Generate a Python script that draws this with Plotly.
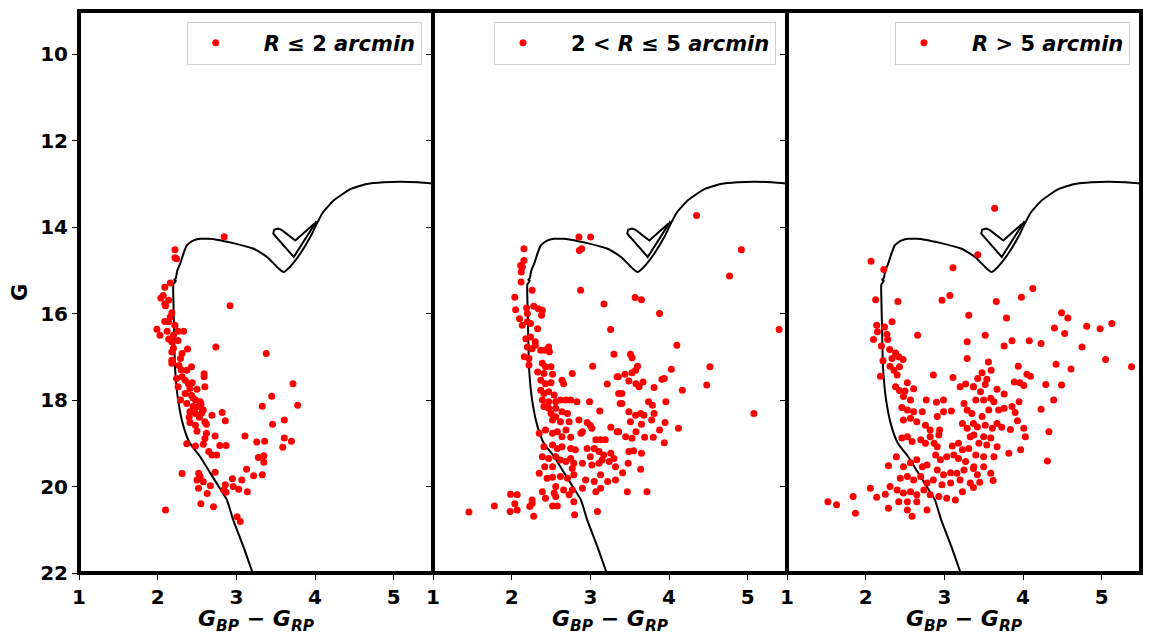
import plotly.graph_objects as go
from plotly.subplots import make_subplots

# Colour-magnitude data (BP-RP, G) for the three radial zones
inner_stars = [
    (2.845, 14.22), (2.22, 14.52), (2.22, 14.71), (2.24, 14.73), (2.16, 15.29), (2.09, 15.39),
    (2.07, 15.58), (2.04, 15.64), (2.14, 15.69), (2.09, 15.77), (2.10, 15.82), (2.92, 15.82),
    (2.18, 15.98), (2.16, 16.08), (2.14, 16.19), (2.09, 16.18), (1.99, 16.36), (2.03, 16.50),
    (2.12, 16.41), (2.22, 16.27), (2.26, 16.41), (2.33, 16.41), (2.14, 16.59), (2.18, 16.65),
    (2.26, 16.62), (2.74, 16.77), (2.18, 16.89), (2.31, 16.92), (2.38, 16.82), (2.18, 17.08),
    (2.18, 17.15), (2.29, 17.04), (3.38, 16.92), (2.37, 17.31), (2.43, 17.23), (2.24, 17.50),
    (2.31, 17.46), (2.35, 17.54), (2.59, 17.39), (2.59, 17.46), (2.26, 17.69), (2.39, 17.62),
    (2.41, 17.73), (2.60, 17.69), (2.35, 17.85), (2.43, 17.89), (2.50, 17.75), (3.72, 17.62),
    (2.29, 18.00), (2.37, 18.08), (2.48, 18.00), (2.54, 18.04), (2.45, 18.15), (2.52, 18.15),
    (2.41, 18.27), (2.48, 18.31), (2.58, 18.23), (2.69, 18.35), (2.82, 18.29), (3.45, 17.91),
    (3.33, 18.14), (3.78, 18.12), (2.41, 18.52), (2.48, 18.58), (2.60, 18.50), (2.62, 18.56),
    (2.86, 18.48), (2.50, 18.72), (3.61, 18.46), (3.46, 18.56), (2.62, 18.77), (2.73, 18.83),
    (2.60, 18.89), (3.11, 18.83), (2.37, 19.01), (2.48, 19.06), (2.58, 19.02), (2.79, 19.05),
    (2.87, 19.05), (3.26, 18.97), (3.36, 18.95), (3.61, 18.88), (3.70, 18.95), (3.59, 19.09),
    (2.65, 19.19), (2.69, 19.27), (2.75, 19.27), (3.28, 19.33), (3.35, 19.29), (3.35, 19.44),
    (2.31, 19.70), (2.52, 19.69), (2.54, 19.77), (2.73, 19.67), (3.13, 19.60), (3.22, 19.75),
    (3.33, 19.73), (2.50, 19.85), (2.58, 19.89), (2.67, 19.98), (2.52, 20.04), (2.86, 19.96),
    (2.95, 19.82), (3.07, 19.85), (2.96, 20.00), (3.03, 20.06), (2.84, 20.08), (2.87, 20.13),
    (3.14, 20.12), (2.63, 20.16), (2.55, 20.40), (2.71, 20.47), (2.10, 20.54), (3.01, 20.70),
    (3.05, 20.81), (2.45, 17.95), (2.55, 18.10), (2.40, 18.40), (2.53, 18.40), (2.47, 18.20),
    (2.56, 18.30), (2.44, 17.60), (2.30, 17.30), (2.27, 17.20), (2.20, 16.80), (2.20, 16.50),
]

middle_stars = [
    (2.855, 14.23), (3.003, 14.23), (2.86, 14.54), (2.89, 14.50), (2.156, 14.50), (2.156, 14.77),
    (2.114, 14.885), (2.135, 14.92), (2.122, 15.04), (2.12, 15.27), (2.26, 15.46), (2.876, 15.46),
    (2.04, 15.62), (3.173, 15.78), (2.05, 15.91), (2.19, 15.87), (2.28, 15.83), (2.34, 15.885),
    (2.39, 15.92), (2.38, 16.04), (2.10, 16.12), (2.135, 16.27), (2.20, 16.00), (2.20, 16.19),
    (2.24, 16.23), (2.33, 16.35), (3.258, 16.37), (2.18, 16.58), (2.24, 16.54), (2.30, 16.65),
    (2.20, 16.77), (2.26, 16.81), (2.30, 16.73), (2.37, 16.85), (2.42, 16.85), (2.47, 16.77),
    (2.48, 16.88), (2.16, 17.00), (2.22, 17.04), (3.30, 16.94), (2.39, 17.15), (2.43, 17.23),
    (2.50, 17.23), (2.22, 17.19), (2.33, 17.35), (2.41, 17.385), (2.52, 17.40), (2.77, 17.385),
    (3.03, 17.22), (2.37, 17.54), (2.43, 17.62), (2.50, 17.60), (2.64, 17.54), (2.66, 17.62),
    (3.215, 17.63), (3.34, 17.46), (2.37, 17.77), (2.41, 17.85), (2.47, 17.81), (2.54, 17.885),
    (2.39, 18.00), (2.47, 18.04), (2.56, 18.04), (2.62, 18.00), (2.69, 18.00), (2.75, 18.00),
    (2.83, 18.04), (2.99, 18.04), (3.36, 17.85), (3.38, 18.08), (2.41, 18.15), (2.47, 18.19),
    (2.56, 18.19), (2.50, 18.31), (2.56, 18.385), (2.64, 18.27), (2.71, 18.31), (2.52, 18.46),
    (2.62, 18.50), (2.73, 18.50), (3.12, 18.25), (2.96, 18.52), (3.00, 18.59), (3.02, 18.65),
    (2.855, 18.46), (3.26, 18.63), (2.35, 18.77), (2.43, 18.69), (2.52, 18.77), (2.58, 18.73),
    (2.64, 18.85), (2.69, 18.69), (2.75, 18.86), (2.88, 18.77), (2.90, 18.73), (2.41, 19.08),
    (2.52, 19.04), (2.58, 19.12), (2.64, 19.08), (2.75, 19.12), (2.81, 19.15), (3.07, 18.92),
    (3.13, 18.92), (3.19, 18.92), (3.05, 19.12), (2.96, 19.12), (3.34, 18.73), (2.39, 19.31),
    (2.47, 19.35), (2.56, 19.31), (2.62, 19.385), (2.69, 19.42), (2.75, 19.35), (2.79, 19.46),
    (2.90, 19.46), (3.00, 19.31), (3.11, 19.19), (3.17, 19.27), (3.26, 19.23), (3.30, 19.35),
    (3.15, 19.385), (3.24, 19.42), (2.42, 19.54), (2.52, 19.54), (2.77, 19.58), (3.02, 19.50),
    (3.11, 19.46), (3.32, 19.54), (2.35, 19.69), (2.45, 19.81), (2.52, 19.785), (2.62, 19.77),
    (2.71, 19.81), (2.79, 19.73), (2.94, 19.85), (3.05, 19.885), (3.13, 19.73), (3.22, 19.885),
    (3.32, 19.85), (2.39, 20.12), (2.56, 20.00), (2.54, 20.15), (2.66, 20.08), (2.77, 20.08),
    (2.90, 20.04), (3.07, 20.12), (3.13, 20.04), (1.987, 20.18), (2.07, 20.19), (2.56, 20.23),
    (2.73, 20.19), (2.43, 20.27), (2.26, 20.31), (2.26, 20.39), (1.78, 20.45), (2.04, 20.40),
    (1.98, 20.58), (2.07, 20.54), (2.23, 20.46), (2.52, 20.45), (2.58, 20.45), (2.79, 20.35),
    (2.80, 20.65), (3.09, 20.58), (2.28, 20.69), (1.457, 20.59),
    (4.35, 13.73), (4.92, 14.52), (4.77, 15.13), (3.57, 15.63), (3.65, 15.68), (3.88, 16.00),
    (5.40, 16.37), (4.10, 16.73), (3.51, 16.94), (3.53, 17.02), (3.60, 17.22), (3.575, 17.31),
    (3.53, 17.37), (3.44, 17.40), (3.355, 17.46), (4.03, 17.285), (4.52, 17.23), (3.94, 17.50),
    (3.91, 17.52), (3.81, 17.71), (3.67, 17.58), (3.62, 17.69), (3.58, 17.62), (3.49, 17.56),
    (4.48, 17.65), (4.17, 17.77), (3.40, 17.85), (3.40, 18.08), (3.74, 18.04), (3.79, 18.12),
    (3.96, 18.04), (3.49, 18.27), (3.575, 18.35), (3.64, 18.31), (3.68, 18.35), (3.81, 18.31),
    (3.78, 18.46), (3.51, 18.50), (3.65, 18.56), (3.95, 18.52), (4.12, 18.65), (3.88, 18.69),
    (5.08, 18.31), (3.36, 18.73), (3.45, 18.85), (3.53, 18.885), (3.58, 18.73), (3.69, 18.86),
    (3.80, 18.86), (3.94, 18.985), (3.49, 19.19), (3.55, 19.17), (3.65, 19.23), (3.48, 19.46),
    (3.41, 19.68), (3.64, 19.60), (3.47, 20.12), (3.72, 20.12),
]

outer_stars = [
    (2.068, 14.79), (2.23, 14.98), (3.11, 14.94), (3.07, 15.58), (2.97, 15.69), (2.127, 15.68),
    (2.41, 15.72), (3.31, 16.04), (2.14, 16.27), (2.24, 16.31), (2.335, 16.19), (2.15, 16.42),
    (2.27, 16.48), (2.10, 16.60), (2.28, 16.60), (2.66, 16.50), (3.29, 16.65), (2.20, 16.75),
    (2.305, 16.83), (2.38, 16.91), (2.22, 17.09), (2.335, 17.04), (2.42, 17.00), (2.475, 17.06),
    (2.31, 17.22), (2.36, 17.31), (2.43, 17.23), (2.40, 17.42), (2.53, 17.60), (2.187, 17.45),
    (2.86, 17.42), (3.11, 17.48), (3.29, 17.04), (2.38, 17.69), (2.43, 17.78), (2.50, 17.79),
    (2.61, 17.74), (2.57, 18.00), (2.48, 17.92), (2.77, 18.00), (2.90, 18.05), (2.99, 18.00),
    (3.20, 17.69), (3.27, 17.63), (3.37, 17.69), (2.46, 18.17), (2.53, 18.23), (2.61, 18.27),
    (2.72, 18.27), (2.48, 18.46), (2.57, 18.42), (2.65, 18.50), (2.91, 18.38), (2.99, 18.27),
    (3.09, 18.25), (2.76, 18.58), (2.82, 18.69), (2.94, 18.69), (2.93, 18.81), (3.25, 18.08),
    (3.29, 18.23), (3.23, 18.54), (3.29, 18.65), (3.33, 18.85), (3.37, 18.54), (2.46, 18.88),
    (2.53, 18.85), (2.59, 18.96), (2.70, 18.92), (2.76, 19.00), (2.82, 18.85), (2.87, 19.00),
    (2.91, 19.08), (3.10, 19.06), (3.18, 19.00), (3.23, 19.15), (3.31, 19.12), (2.39, 19.31),
    (2.29, 19.52), (2.48, 19.54), (2.57, 19.45), (2.65, 19.38), (2.72, 19.54), (2.78, 19.50),
    (2.89, 19.27), (2.95, 19.38), (3.03, 19.31), (3.12, 19.27), (3.18, 19.35), (3.27, 19.42),
    (2.91, 19.62), (2.99, 19.73), (3.08, 19.68), (3.16, 19.69), (3.25, 19.62), (3.37, 19.58),
    (2.44, 19.81), (2.53, 19.77), (2.61, 19.85), (2.70, 19.77), (2.78, 19.92), (2.86, 19.85),
    (2.97, 19.96), (3.08, 19.92), (3.20, 19.85), (3.33, 19.92), (2.31, 20.00), (2.40, 20.08),
    (2.48, 20.15), (2.57, 20.12), (2.65, 20.19), (2.74, 20.08), (2.82, 20.19), (2.93, 20.23),
    (3.03, 20.27), (3.14, 20.31), (3.23, 20.12), (2.06, 20.04), (1.84, 20.23), (2.14, 20.25),
    (2.25, 20.18), (2.42, 20.35), (2.53, 20.35), (2.65, 20.35), (2.29, 20.50), (2.53, 20.54),
    (2.78, 20.54), (2.59, 20.69), (1.87, 20.62), (1.52, 20.35), (1.63, 20.42),
    (3.64, 13.56), (3.425, 14.64), (4.125, 15.42), (3.98, 15.62), (3.66, 15.72), (4.49, 15.98),
    (4.57, 16.10), (4.40, 16.33), (4.53, 16.46), (4.81, 16.29), (4.98, 16.35), (5.13, 16.23),
    (3.79, 16.10), (3.52, 16.50), (3.76, 16.75), (3.86, 16.63), (4.08, 16.63), (4.23, 16.69),
    (4.75, 16.77), (5.05, 17.06), (5.38, 17.23), (4.42, 17.17), (4.61, 17.28), (3.94, 17.22),
    (3.56, 17.12), (3.595, 17.31), (3.48, 17.37), (3.54, 17.52), (3.425, 17.50), (3.52, 17.64),
    (3.67, 17.75), (3.76, 17.86), (4.05, 17.40), (4.095, 17.45), (3.89, 17.58), (3.96, 17.60),
    (4.01, 17.66), (4.29, 17.64), (4.49, 17.65), (4.39, 18.00), (4.23, 18.21), (3.37, 17.69),
    (3.46, 17.81), (3.40, 18.00), (3.50, 18.00), (3.59, 17.96), (3.63, 18.04), (3.565, 18.23),
    (3.69, 18.23), (3.76, 18.19), (3.86, 18.15), (3.90, 18.29), (3.93, 18.48), (3.95, 18.04),
    (3.35, 18.31), (3.48, 18.38), (3.42, 18.62), (3.52, 18.58), (3.61, 18.65), (3.67, 18.54),
    (3.73, 18.63), (3.84, 18.68), (4.01, 18.65), (4.03, 18.85), (3.375, 18.81), (3.50, 18.85),
    (3.59, 18.88), (3.44, 19.00), (3.54, 19.04), (3.67, 19.08), (3.82, 19.23), (3.97, 19.15),
    (4.33, 18.73), (4.31, 19.41), (3.40, 19.27), (3.50, 19.31), (3.63, 19.31), (3.375, 19.54),
    (3.50, 19.54), (3.59, 19.69), (3.42, 19.73), (3.62, 19.86), (3.45, 19.90), (3.37, 20.02),
]

# Isochrone: main sequence -> turn-off -> subgiant -> red giant branch
iso_bp_rp = [3.22, 3.20, 3.09, 2.96, 2.88, 2.79, 2.67, 2.54, 2.41, 2.33, 2.26, 2.22, 2.21, 2.20,
             2.20, 2.23, 2.21, 2.23, 2.25, 2.285, 2.33, 2.37, 2.45, 2.54, 2.65, 2.75, 2.96, 3.22,
             3.39, 3.54, 3.60, 3.68, 3.81, 3.94, 4.02, 4.10, 4.24, 4.45, 4.66, 4.87, 5.10, 5.30,
             5.50, 5.60]
iso_g = [22.05, 21.96, 21.39, 20.77, 20.31, 20.04, 19.69, 19.31, 19.00, 18.62, 18.00, 17.23, 16.46,
         15.69, 15.32, 15.24, 15.22, 15.18, 15.00, 14.85, 14.60, 14.42, 14.31, 14.27, 14.27, 14.29,
         14.37, 14.50, 14.69, 14.96, 15.04, 14.92, 14.62, 14.23, 13.93, 13.66, 13.38, 13.12, 13.00,
         12.96, 12.95, 12.96, 12.99, 13.00]
# Red clump loop
clump_bp_rp = [4.02, 3.73, 3.47, 3.48, 3.53, 3.58, 3.75, 3.99]
clump_g = [13.86, 14.69, 14.15, 14.06, 14.03, 14.07, 14.31, 13.92]

zone_labels = [
    "<b><i>R</i> ≤ 2 <i>arcmin</i></b>",
    "<b>2 < <i>R</i> ≤ 5 <i>arcmin</i></b>",
    "<b><i>R</i> > 5 <i>arcmin</i></b>",
]
zones = [inner_stars, middle_stars, outer_stars]

x_ticks = [1, 2, 3, 4, 5]
y_ticks = [10, 12, 14, 16, 18, 20, 22]

FONT = "DejaVu Sans"
PAD = "\u00a0" * 3

fig = make_subplots(rows=1, cols=3, shared_yaxes=True, horizontal_spacing=0)

legend_x = [0.3227, 0.6563, 0.9896]
for i, (stars, label) in enumerate(zip(zones, zone_labels), start=1):
    sfx = "" if i == 1 else str(i)
    fig.add_trace(go.Scatter(x=iso_bp_rp, y=iso_g, mode="lines",
                             line=dict(color="black", width=2, shape="spline", smoothing=0.5),
                             showlegend=False, hoverinfo="skip"), row=1, col=i)
    fig.add_trace(go.Scatter(x=clump_bp_rp, y=clump_g, mode="lines",
                             line=dict(color="black", width=2), showlegend=False,
                             hoverinfo="skip"), row=1, col=i)
    legend_name = "legend" + sfx
    fig.add_trace(go.Scatter(x=[s[0] for s in stars], y=[s[1] for s in stars],
                             mode="markers", name=PAD + label,
                             marker=dict(color="#ff0000", size=7, line=dict(width=0)),
                             legend=legend_name), row=1, col=i)
    fig.add_shape(type="rect", xref=f"x{sfx} domain", yref=f"y{sfx} domain",
                  x0=0, x1=1, y0=0, y1=1,
                  line=dict(color="black", width=4), layer="above")
    fig.add_annotation(text="<b><i>G</i><sub><i>BP</i></sub> − <i>G</i><sub><i>RP</i></sub></b>",
                       xref=f"x{sfx} domain", yref="paper", x=0.5, y=-0.085,
                       xanchor="center", yanchor="middle", showarrow=False,
                       font=dict(family=FONT, size=22, color="black"))
    fig.update_xaxes(row=1, col=i, range=[1, 5.5], tickvals=x_ticks, showgrid=False,
                     zeroline=False, showline=False, ticks="outside", ticklen=6,
                     tickwidth=1, tickcolor="black",
                     tickfont=dict(family=FONT, size=20, color="black", weight="bold"))
    fig.update_yaxes(row=1, col=i, range=[22, 9], tickvals=y_ticks, showgrid=False,
                     zeroline=False, showline=False, ticks="outside", ticklen=6,
                     tickwidth=1, tickcolor="black",
                     tickfont=dict(family=FONT, size=20, color="black", weight="bold"))
    fig.update_layout({legend_name: dict(
        x=legend_x[i - 1], y=0.981, xanchor="right", yanchor="top",
        bgcolor="rgba(255,255,255,0.8)", bordercolor="#d0d0d0", borderwidth=1,
        itemwidth=46, font=dict(family=FONT, size=21, color="black"), itemclick=False)})

fig.add_annotation(text="<b>G</b>", xref="paper", yref="paper", x=-0.0556, y=0.5,
                   textangle=-90, xanchor="center", yanchor="middle", showarrow=False,
                   font=dict(family=FONT, size=21, color="black"))

fig.update_layout(
    width=1149, height=635,
    margin=dict(l=79, r=8, t=11, b=62),
    paper_bgcolor="white", plot_bgcolor="white",
    font=dict(family=FONT, color="black"),
)

fig.write_html("out.html")
